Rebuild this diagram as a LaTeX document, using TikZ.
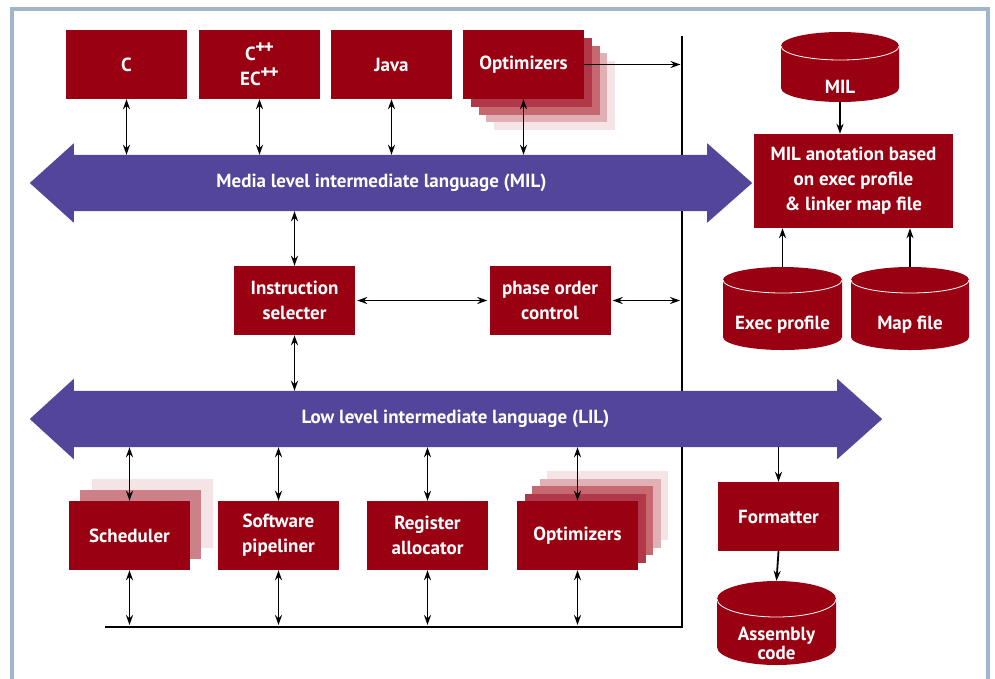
\documentclass[tikz,border=0pt]{standalone}
\usepackage{fontspec}
\setmainfont{PT Sans}
\usetikzlibrary{arrows.meta}
\definecolor{mred}{HTML}{990012}
\definecolor{mpurp}{HTML}{53459A}
\definecolor{frameblue}{HTML}{A2B6C9}
\definecolor{sha}{HTML}{B13848}
\definecolor{shb}{HTML}{C56870}
\definecolor{shc}{HTML}{E0B0B4}
\definecolor{shd}{HTML}{F4E4E5}
\definecolor{she}{HTML}{CC8087}
\newcommand\dbcyl[6]{%
  \fill[mred] (#2-#5,-#3) -- (#2-#5,-#4) arc[start angle=180,end angle=360,x radius=#5,y radius=#6]
     -- (#2+#5,-#3) arc[start angle=0,end angle=180,x radius=#5,y radius=#6] -- cycle;
  \draw[white,line width=0.8] (#2-#5,-#3) arc[start angle=180,end angle=360,x radius=#5,y radius=#6];
  \node[inner sep=0,minimum width=2*#5,minimum height=#4-#3+2*#6] (#1) at (#2,-#3/2-#4/2) {};
}
\newcommand\pp{\raisebox{0.36em}{\fontsize{19}{19}\selectfont\kern-0.5pt+\kern-1.5pt+}}
\begin{document}
\begin{tikzpicture}[x=1pt,y=1pt,
  font=\bfseries\fontsize{19}{25}\selectfont,
  box/.style={fill=mred,text=white,minimum width=121,minimum height=69,inner sep=0,align=center},
  bar/.style={inner sep=0,minimum height=56},
  bartext/.style={text=white,inner sep=0},
  cyltext/.style={text=white,inner sep=0,align=center},
  dbl/.style={{Stealth[length=10,width=7]}-{Stealth[length=10,width=7]},line width=1.8},
  arr/.style={-{Stealth[length=10,width=7]},line width=1.8},
  rule/.style={line width=2.8}]
\useasboundingbox (0,0) rectangle (995,-678);
\fill[white] (0,0) rectangle (995,-678);
\clip (0,0) rectangle (995,-678);
\draw[frameblue,line width=3.5] (12,-9) rectangle (988,-700);

% separator lines
\coordinate (vtop) at (682,-36);
\coordinate (corner) at (682,-627);
\coordinate (hleft) at (105,-627);
\draw[rule] (vtop) -- (corner) -- (hleft);

% top row
\node[box] (c) at (126.5,-64.5) {C};
\node[box] (cpp) at (259.5,-64.5) {C\pp\\EC\pp};
\node[box] (java) at (391.5,-64.5) {Java};
\foreach \k/\col in {4/shd,3/shc,2/shb,1/sha}
  \fill[\col] (463+7.75*\k,-30-7.75*\k) rectangle ++(121,-69);
\node[box] (opt1) at (523.5,-64.5) {Optimizers};

% MIL arrow
\node[bar,minimum width=633] (milbar) at (390.5,-183) {};
\fill[mpurp] (milbar.north west) -- ([yshift=11.5]milbar.north west) -- ([xshift=-44]milbar.west)
  -- ([yshift=-11.5]milbar.south west) -- (milbar.south west) -- (milbar.south east)
  -- ([yshift=-11.5]milbar.south east) -- ([xshift=45]milbar.east)
  -- ([yshift=11.5]milbar.north east) -- (milbar.north east) -- cycle;
\node[bartext] at ([xshift=-9]milbar.center) {Media level intermediate language (MIL)};

% middle
\node[box] (instr) at (294.5,-300.5) {Instruction\\selecter};
\node[box] (phase) at (550,-300.5) {phase order\\control};

% LIL arrow
\node[bar,minimum width=763] (lilbar) at (455.5,-419) {};
\fill[mpurp] (lilbar.north west) -- ([yshift=12]lilbar.north west) -- ([xshift=-44]lilbar.west)
  -- ([yshift=-12]lilbar.south west) -- (lilbar.south west) -- (lilbar.south east)
  -- ([yshift=-12]lilbar.south east) -- ([xshift=45]lilbar.east)
  -- ([yshift=12]lilbar.north east) -- (lilbar.north east) -- cycle;
\node[bartext] at (lilbar.center) {Low level intermediate language (LIL)};

% bottom row
\fill[shd] (92,-479) rectangle ++(121,-69);
\fill[she] (80,-490) rectangle ++(121,-69);
\node[box] (sched) at (129.5,-535.5) {Scheduler};
\node[box] (swp) at (278.5,-535.5) {Software\\pipeliner};
\node[box] (reg) at (427.5,-535.5) {Register\\allocator};
\foreach \k/\col in {4/shd,3/shc,2/shb,1/sha}
  \fill[\col] (517+7.6*\k,-501+7.5*\k) rectangle ++(121,-69);
\node[box] (opt2) at (577.5,-535.5) {Optimizers};

% right side
\dbcyl{milcyl}{840}{46}{88}{59}{14}
\node[cyltext] at (840,-87) {MIL};
\node[box,minimum width=199,minimum height=94] (anno) at (853.5,-181) {MIL anotation based\\on exec profile\\\& linker map file};
\dbcyl{execcyl}{782.5}{280}{337}{59.5}{13}
\node[cyltext] at (782.5,-325) {Exec profile};
\dbcyl{mapcyl}{910}{280}{337}{59}{13}
\node[cyltext] at (910,-325) {Map file};
\node[box] (fmt) at (778.5,-516.5) {Formatter};
\dbcyl{asm}{776.5}{599}{647}{59.5}{18}
\node[cyltext,font=\bfseries\fontsize{19}{19}\selectfont] at (776.5,-643) {Assembly\\code};

% connectors
\foreach \n in {c,cpp,java,opt1}
  \draw[dbl] (\n.south) -- (\n.south |- milbar.north);
\draw[arr] (opt1.east) -- ([xshift=-1.5]opt1.east -| vtop);
\draw[dbl] (milbar.south -| instr) -- (instr.north);
\draw[dbl] (instr.south) -- (instr.south |- lilbar.north);
\draw[dbl] ([xshift=2]instr.east) -- ([xshift=-2]phase.west);
\draw[dbl] ([xshift=2]phase.east) -- ([xshift=-2]phase.east -| vtop);
\foreach \n in {sched,swp,reg,opt2}{
  \draw[dbl] (lilbar.south -| \n) -- (\n.north);
  \draw[dbl] (\n.south) -- ([yshift=2]\n.south |- hleft);
}
\draw[arr] (milcyl.south) -- (milcyl.south |- anno.north);
\draw[arr] (execcyl.north) -- (execcyl.north |- anno.south);
\draw[arr] (mapcyl.north) -- (mapcyl.north |- anno.south);
\draw[arr] (lilbar.south -| fmt) -- (fmt.north);
\draw[arr] (fmt.south) -- (asm.north);
\end{tikzpicture}
\end{document}
